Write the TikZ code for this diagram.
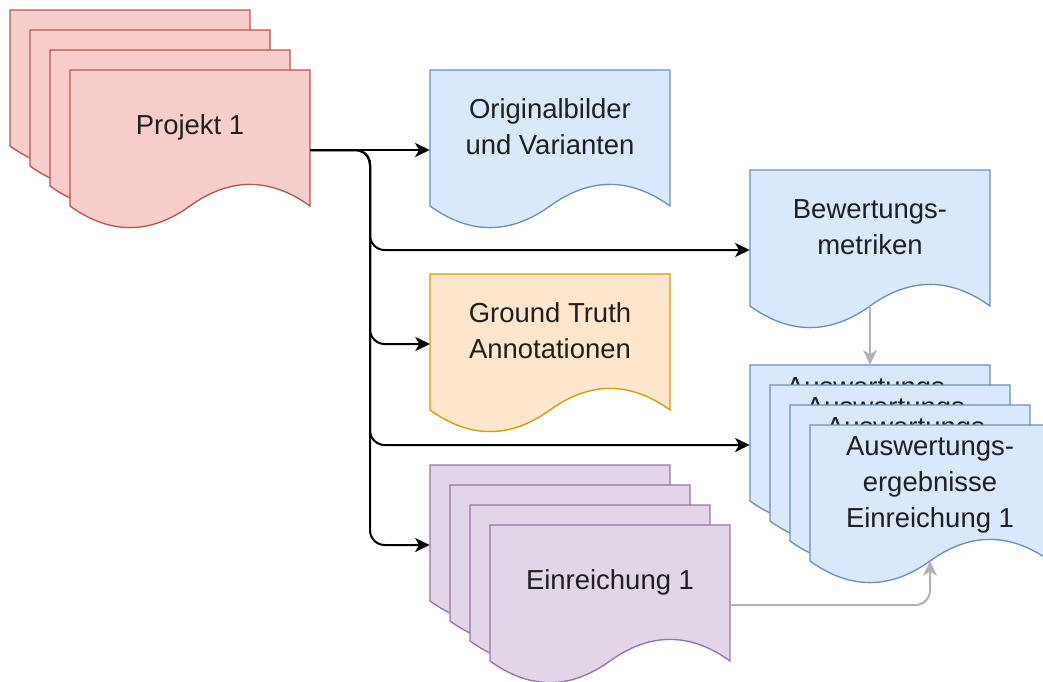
\documentclass[tikz,border=0pt]{standalone}
\usepackage{fontspec}
\setmainfont{Liberation Sans}
\usetikzlibrary{arrows.meta}
\definecolor{redfill}{HTML}{F8CECC}\definecolor{reddraw}{HTML}{B85450}
\definecolor{bluefill}{HTML}{DAE8FC}\definecolor{bluedraw}{HTML}{6C8EBF}
\definecolor{orfill}{HTML}{FFE6CC}\definecolor{ordraw}{HTML}{D79B00}
\definecolor{pufill}{HTML}{E1D5E7}\definecolor{pudraw}{HTML}{9673A6}
\definecolor{lgray}{HTML}{B3B3B3}
\tikzset{
  redpage/.style={fill=redfill,draw=reddraw,line width=1pt},
  bluepage/.style={fill=bluefill,draw=bluedraw,line width=1pt},
  orpage/.style={fill=orfill,draw=ordraw,line width=1pt},
  pupage/.style={fill=pufill,draw=pudraw,line width=1pt},
  pagebox/.style={inner sep=0pt,minimum width=180pt,minimum height=120pt},
  txt/.style={align=center,font=\fontsize{20.6pt}{27pt}\selectfont,text=black!88,inner sep=0pt},
  conn/.style={draw=black,line width=1.5pt,rounded corners=11pt,
    -{Stealth[length=11pt,width=10.5pt,inset=3pt]}},
  gconn/.style={draw=lgray,line width=1.5pt,rounded corners=11pt,
    -{Stealth[length=11pt,width=10.5pt,inset=3pt]}}
}
% #1 name, #2 x, #3 y, #4 style, #5 text y offset, #6 text
\newcommand\docpage[6]{%
  \begin{scope}[shift={(#2,#3)}]
    \path[#4] (0,0) -- (240,0) -- (240,136)
      .. controls (200,107.2) and (160,107.2) .. (120,136)
      .. controls (80,164.8) and (40,164.8) .. (0,136) -- cycle;
    \node[pagebox] (#1) at (120,80) {};
    \coordinate (#1-b) at (120,136);
    \node[txt] (#1-t) at (120,#5) {#6};
  \end{scope}}
\newcommand\blankpage[4]{%
  \begin{scope}[shift={(#2,#3)}]
    \path[#4] (0,0) -- (240,0) -- (240,136)
      .. controls (200,107.2) and (160,107.2) .. (120,136)
      .. controls (80,164.8) and (40,164.8) .. (0,136) -- cycle;
    \node[pagebox] (#1) at (120,80) {};
  \end{scope}}
\begin{document}
\begin{tikzpicture}[x=0.75pt,y=-0.75pt]
\useasboundingbox (0,0) rectangle (1043,682);
% Projekt stack
\blankpage{p1}{10}{10}{redpage}
\blankpage{p2}{30}{30}{redpage}
\blankpage{p3}{50}{50}{redpage}
\docpage{proj}{70}{70}{redpage}{57}{Projekt 1}
% single documents
\docpage{orig}{430}{70}{bluepage}{57}{Originalbilder\\und Varianten}
\docpage{bew}{750}{170}{bluepage}{57}{Bewertungs-\\metriken}
\docpage{gt}{430}{274}{orpage}{57}{Ground Truth\\Annotationen}
% Auswertungs stack
\docpage{a1}{750}{365}{bluepage}{25}{Auswertungs-}
\docpage{a2}{770}{385}{bluepage}{25}{Auswertungs-}
\docpage{a3}{790}{405}{bluepage}{25}{Auswertungs-}
\docpage{a4}{810}{425}{bluepage}{60}{Auswertungs-\\ergebnisse\\Einreichung 1}
% Einreichung stack
\blankpage{e1}{430}{465}{pupage}
\blankpage{e2}{450}{485}{pupage}
\blankpage{e3}{470}{505}{pupage}
\docpage{e4}{490}{525}{pupage}{57}{Einreichung 1}
% connectors
\coordinate (bus) at (370,150);
\coordinate (gtin) at (430,344);
\draw[conn] (proj.east) -- (orig.west);
\draw[conn] (proj.east) -- (bus) |- (bew.west);
\draw[conn] (proj.east) -- (bus) |- (gtin);
\draw[conn] (proj.east) -- (bus) |- (a1.west);
\draw[conn] (proj.east) -- (bus) |- (e1.west);
\draw[gconn] (bew-b) -- (a1.north);
\draw[gconn] (e4.east) -| (a4-b);
\end{tikzpicture}
\end{document}
